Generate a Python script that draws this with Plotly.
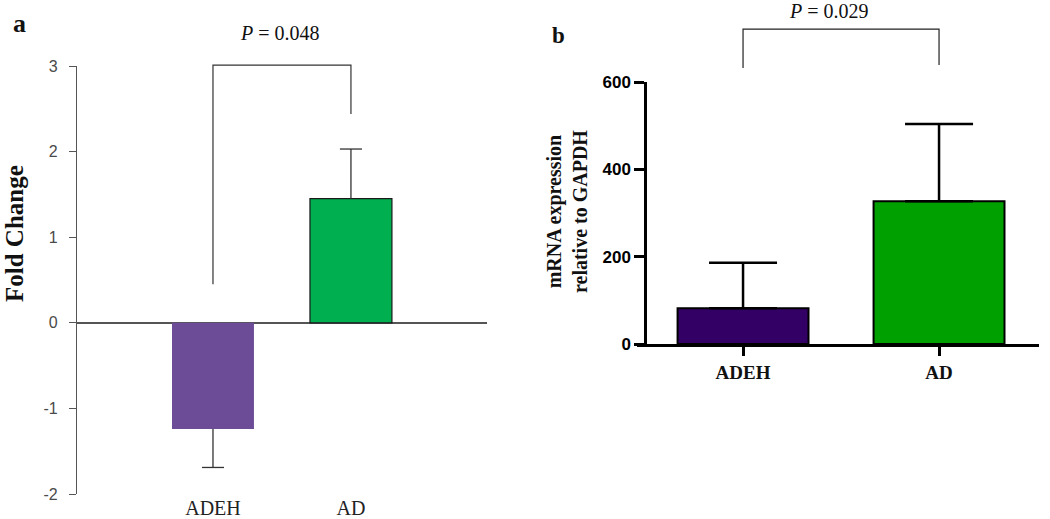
import plotly.graph_objects as go

# ---------------- data ----------------
categories = ["ADEH", "AD"]

# panel a: fold change
fold_change = [-1.24, 1.45]
fold_err_minus = [0.45, 0.0]
fold_err_plus = [0.0, 0.58]
bracket_a = [0.45, 3.01, 3.01, 2.44]   # left foot, top, top, right foot
p_a = "<i>P</i> = 0.048"

# panel b: mRNA expression
mrna = [82, 327]
mrna_err = [104, 177]
bracket_b = [632, 721, 721, 639]
p_b = "<i>P</i> = 0.029"

yticks_a = [-2, -1, 0, 1, 2, 3]
yticklabels_a = ["-2", "-1", "0", "1", "2", "3"]
yticks_b = [0, 200, 400, 600]

# ---------------- geometry (pixels) ----------------
W, H = 1050, 519
def px_x(p): return p / W
def px_y(p): return 1 - p / H

# panel a
ax_a_left, ax_a_right = 77, 487
ay_a_top, ay_a_bot = 66, 494
ya_range = [-2, 3]
xa_range = [-0.9855, 1.986]
# panel b
ax_b_left, ax_b_right = 637, 1039
ay_b_top, ay_b_bot = 82, 344
yb_axis_x = 645
yb_range = [0, 600]
xb_range = [-0.541, 1.510]

def extend(rng, d0, d1, new_d1=1.0):
    return [rng[0], rng[0] + (rng[1] - rng[0]) * (new_d1 - d0) / (d1 - d0)]

ya_dom = [px_y(ay_a_bot), px_y(ay_a_top)]
yb_dom = [px_y(ay_b_bot), px_y(ay_b_top)]

xidx = list(range(len(categories)))

fig = go.Figure()

# panel a bars
fig.add_trace(go.Bar(
    x=[xidx[0]], y=[fold_change[0]], width=0.594, xaxis="x", yaxis="y",
    marker=dict(color="#6D4C97", line=dict(width=0)), showlegend=False))
fig.add_trace(go.Bar(
    x=[xidx[1]], y=[fold_change[1]], width=0.594, xaxis="x", yaxis="y",
    marker=dict(color="#00B050", line=dict(color="#1a1a1a", width=1.2)), showlegend=False))

# panel a error bars (one-sided) as lines
cap = 0.08
ex, ey = [], []
for i, v in enumerate(fold_change):
    end = v - fold_err_minus[i] + fold_err_plus[i]
    ex += [xidx[i], xidx[i], None, xidx[i] - cap, xidx[i] + cap, None]
    ey += [v, end, None, end, end, None]
fig.add_trace(go.Scatter(x=ex, y=ey, mode="lines", xaxis="x", yaxis="y",
                         line=dict(color="#333333", width=1.3), showlegend=False, hoverinfo="skip"))

# panel a bracket
fig.add_trace(go.Scatter(x=[xidx[0], xidx[0], xidx[1], xidx[1]], y=bracket_a, mode="lines",
                         xaxis="x", yaxis="y3", line=dict(color="#333333", width=1.2),
                         showlegend=False, hoverinfo="skip"))

# panel b bars
fig.add_trace(go.Bar(
    x=xidx, y=mrna, width=0.668, xaxis="x2", yaxis="y2",
    marker=dict(color=["#330066", "#00A000"], line=dict(color="#000000", width=2)),
    error_y=dict(type="data", symmetric=False, array=mrna_err, arrayminus=[0, 0],
                 color="#000000", thickness=2.5, width=34),
    showlegend=False))

# panel b bracket
fig.add_trace(go.Scatter(x=[xidx[0], xidx[0], xidx[1], xidx[1]], y=bracket_b, mode="lines",
                         xaxis="x2", yaxis="y4", line=dict(color="#222222", width=1.2),
                         showlegend=False, hoverinfo="skip"))

serif = "Liberation Serif"
sans = "Liberation Sans"

fig.update_layout(
    width=W, height=H, margin=dict(l=0, r=0, t=0, b=0, autoexpand=False),
    paper_bgcolor="white", plot_bgcolor="rgba(0,0,0,0)", barmode="overlay",
    xaxis=dict(domain=[px_x(ax_a_left), px_x(ax_a_right)], range=xa_range, anchor="y",
               tickvals=xidx, ticktext=categories, showline=False, showgrid=False, zeroline=False,
               ticks="",
               tickfont=dict(family=serif, size=20, color="#222222")),
    yaxis=dict(domain=ya_dom, range=ya_range, anchor="x", tickvals=yticks_a, ticktext=yticklabels_a,
               showline=True, linecolor="#555555", linewidth=1.2, showgrid=False,
               zeroline=True, zerolinecolor="#555555", zerolinewidth=1.5,
               ticks="outside", ticklen=7, tickcolor="#555555", tickwidth=1.2,
               ticklabelstandoff=8,
               tickfont=dict(family=sans, size=16, color="#4a4a4a")),
    yaxis3=dict(domain=[ya_dom[0], 1.0], range=extend(ya_range, *ya_dom), anchor="x",
                visible=False),
    xaxis2=dict(domain=[px_x(ax_b_left), px_x(ax_b_right)], range=xb_range, anchor="y2",
                tickvals=xidx, ticktext=categories, showline=True, linecolor="#000000", linewidth=2.5,
                showgrid=False, zeroline=False, ticks="outside", ticklen=9, tickwidth=2.5,
                tickcolor="#000000",
                tickfont=dict(family=serif, size=19, color="#111111", weight="bold")),
    yaxis2=dict(domain=yb_dom, range=yb_range, anchor="free", position=px_x(yb_axis_x),
                tickvals=yticks_b, showline=True, linecolor="#000000", linewidth=2.5,
                showgrid=False, zeroline=False, ticks="outside", ticklen=10, tickwidth=2.5,
                tickcolor="#000000",
                tickfont=dict(family=sans, size=17, color="#000000", weight="bold")),
    yaxis4=dict(domain=[yb_dom[0], 1.0], range=extend(yb_range, *yb_dom), anchor="x2",
                visible=False),
)

ann = [
    dict(text="a", x=px_x(19), y=px_y(24), font=dict(family=serif, size=26, color="#111111", weight="bold")),
    dict(text="b", x=px_x(558), y=px_y(36), font=dict(family=serif, size=23, color="#111111", weight="bold")),
    dict(text=p_a, x=px_x(280), y=px_y(33), font=dict(family=serif, size=20, color="#111111")),
    dict(text=p_b, x=px_x(829), y=px_y(11), font=dict(family=serif, size=20, color="#111111")),
    dict(text="Fold Change", x=px_x(14), y=px_y(234), textangle=-90,
         font=dict(family=serif, size=25, color="#111111", weight="bold")),
    dict(text="mRNA expression<br>relative to GAPDH", x=px_x(567), y=px_y(212), textangle=-90,
         font=dict(family=serif, size=20, color="#111111", weight="bold")),
]
for a in ann:
    fig.add_annotation(xref="paper", yref="paper", showarrow=False,
                       xanchor="center", yanchor="middle", **a)

fig.write_html("out.html", config={"displayModeBar": False},
               post_script="document.body.style.margin='0';document.body.style.overflow='hidden';")
